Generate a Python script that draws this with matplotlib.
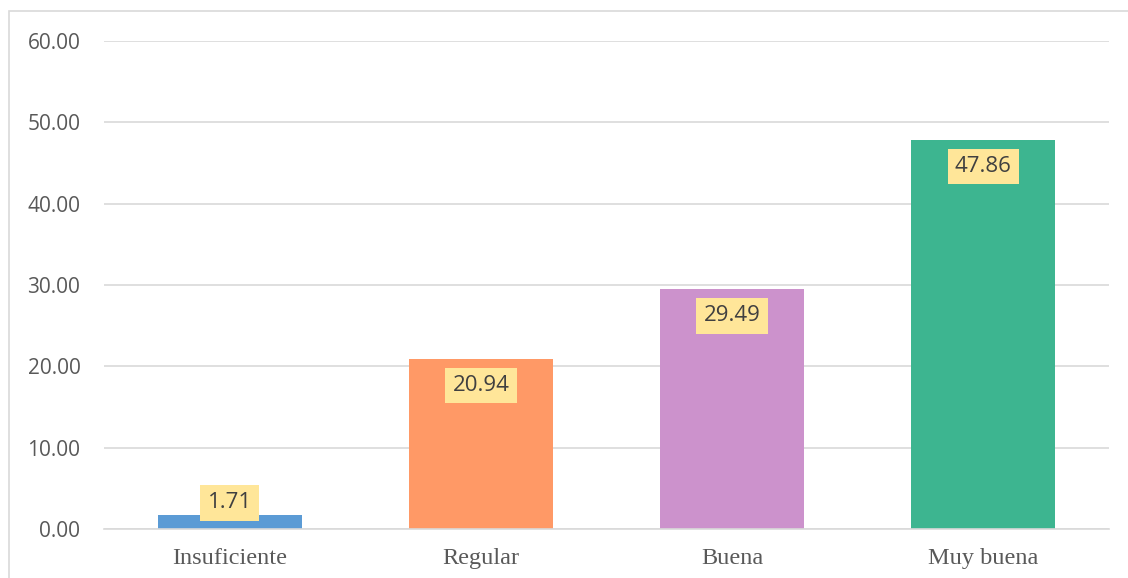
import matplotlib
matplotlib.use("Agg")
import matplotlib.pyplot as plt
from matplotlib.patches import Rectangle

categorias = ["Insuficiente", "Regular", "Buena", "Muy buena"]
valores = [1.71, 20.94, 29.49, 47.86]
colores = ["#5B9BD5", "#FF9966", "#CC92CC", "#3DB590"]
ticks_y = [0, 10, 20, 30, 40, 50, 60]

W, H = 1128, 578
fig = plt.figure(figsize=(W / 100, H / 100), dpi=100, facecolor="white")

# marco del grafico
fig.patches.append(Rectangle((9 / W, -0.1), 1.2, 1 - 11 / H + 0.1, transform=fig.transFigure,
                             fill=False, edgecolor="#D9D9D9", linewidth=1.2))

ax = fig.add_axes([104 / W, 1 - 529 / H, (1109 - 104) / W, (529 - 41) / H])
x = range(len(categorias))
ax.bar(x, valores, width=0.574, color=colores, zorder=2)
ax.set_xlim(-0.5, len(categorias) - 0.5)
ax.set_ylim(0, 60)
ax.set_yticks(ticks_y)
ax.set_yticklabels([f"{v:.2f}" for v in ticks_y], fontsize=15, color="#595959", family="Open Sans")
ax.set_xticks(list(x))
ax.set_xticklabels(categorias, fontsize=17.5, color="#595959", family="Liberation Serif")
ax.tick_params(axis="both", length=0)
ax.tick_params(axis="y", pad=17)
ax.tick_params(axis="x", pad=14)
ax.grid(axis="y", color="#D9D9D9", linewidth=1.2, zorder=0)
for s in ["top", "right", "left"]:
    ax.spines[s].set_visible(False)
ax.spines["bottom"].set_color("#D9D9D9")
ax.spines["bottom"].set_linewidth(1.2)
ax.spines["bottom"].set_zorder(3)

for i, v in enumerate(valores):
    y = max(v - 3.3, 3.2)
    ax.text(i, y, f"{v:.2f}", ha="center", va="center", fontsize=16, color="#404040",
            family="Open Sans", zorder=4,
            bbox=dict(boxstyle="square,pad=0.33", facecolor="#FFE699", edgecolor="none"))

fig.savefig("out.png", dpi=100, facecolor="white")
